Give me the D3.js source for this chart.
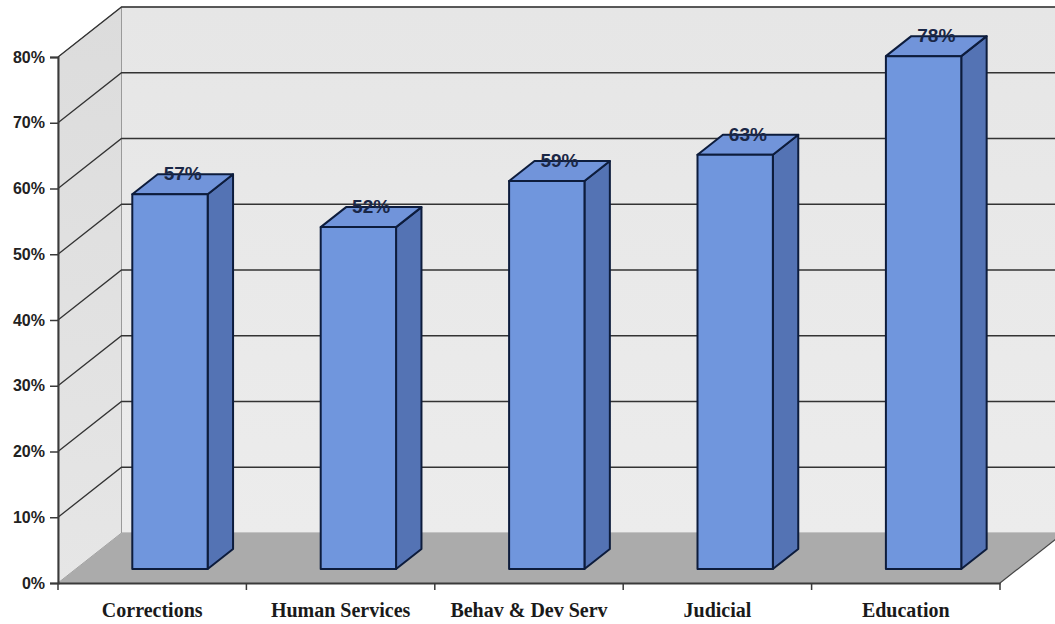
<!DOCTYPE html>
<html>
<head>
<meta charset="utf-8">
<script src="https://cdn.jsdelivr.net/npm/d3@7/dist/d3.min.js"></script>
<style>
  html, body { margin: 0; padding: 0; background: #ffffff; }
  svg { display: block; }
</style>
</head>
<body>
<svg id="chart" width="1055" height="624"></svg>
<script>
// Share of respondents by department
const categories = ["Corrections", "Human Services", "Behav & Dev Serv", "Judicial", "Education"];
const values = [57, 52, 59, 63, 78];
const yTicks = [0, 10, 20, 30, 40, 50, 60, 70, 80];

const W = 1055, H = 624;
const svg = d3.select("#chart");

// Front plane of the 3D box
const x0 = 58, x1 = 1000, yBase = 583, yTopPx = 57;
// Full depth of the box (offset of the back wall from the front plane)
const depthX = 63.5, depthY = -50;
// Bars sit between these depth fractions
const barFront = 0.28, barBack = 0.68;
const barWidthFrac = 0.40;

const x = d3.scaleBand().domain(categories).range([x0, x1]).padding(0);
const y = d3.scaleLinear().domain([0, 80]).range([yBase, yTopPx]);

// Project a point (px, value) at a depth fraction f
function P(px, v, f) {
  return [px + depthX * f, y(v) + depthY * f];
}
const pts = arr => arr.map(p => p.join(",")).join(" ");

const defs = svg.append("defs");
const gBack = defs.append("linearGradient").attr("id", "backWall")
  .attr("x1", 0).attr("y1", 0).attr("x2", 0).attr("y2", 1);
gBack.append("stop").attr("offset", "0%").attr("stop-color", "#e6e6e6");
gBack.append("stop").attr("offset", "100%").attr("stop-color", "#ececec");
const gSide = defs.append("linearGradient").attr("id", "sideWall")
  .attr("x1", 0).attr("y1", 0).attr("x2", 0).attr("y2", 1);
gSide.append("stop").attr("offset", "0%").attr("stop-color", "#dcdcdc");
gSide.append("stop").attr("offset", "100%").attr("stop-color", "#e6e6e6");

// Back wall
svg.append("polygon")
  .attr("points", pts([P(x0, 0, 1), P(x1, 0, 1), P(x1, 80, 1), P(x0, 80, 1)]))
  .attr("fill", "url(#backWall)")
  .attr("stroke", "#9a9a9a").attr("stroke-width", 1);

// Side wall
svg.append("polygon")
  .attr("points", pts([P(x0, 0, 0), P(x0, 0, 1), P(x0, 80, 1), P(x0, 80, 0)]))
  .attr("fill", "url(#sideWall)")
  .attr("stroke", "#9a9a9a").attr("stroke-width", 1);

// Floor
svg.append("polygon")
  .attr("points", pts([P(x0, 0, 0), P(x1, 0, 0), P(x1, 0, 1), P(x0, 0, 1)]))
  .attr("fill", "#ababab");
svg.append("line")
  .attr("x1", P(x1, 0, 0)[0]).attr("y1", P(x1, 0, 0)[1])
  .attr("x2", P(x1, 0, 1)[0]).attr("y2", P(x1, 0, 1)[1])
  .attr("stroke", "#444").attr("stroke-width", 1.2);

// Gridlines on the back wall and diagonals on the side wall
const grid = svg.append("g").attr("stroke", "#333").attr("stroke-width", 1.3).attr("fill", "none");
yTicks.filter(t => t > 0).forEach(t => {
  const a = P(x0, t, 0), b = P(x0, t, 1), c = P(x1, t, 1);
  grid.append("polyline").attr("points", pts([a, b, c]));
});

// Bars
const bars = svg.append("g");
categories.forEach((c, i) => {
  const v = values[i];
  const cx = x(c) + x.bandwidth() / 2;
  const w = x.bandwidth() * barWidthFrac;
  const L = cx - w / 2, R = cx + w / 2;
  const g = bars.append("g")
    .attr("stroke", "#0d1c3c").attr("stroke-width", 2).attr("stroke-linejoin", "round");
  // right side face
  g.append("polygon")
    .attr("points", pts([P(R, 0, barFront), P(R, 0, barBack), P(R, v, barBack), P(R, v, barFront)]))
    .attr("fill", "#5473b4");
  // top face
  g.append("polygon")
    .attr("points", pts([P(L, v, barFront), P(R, v, barFront), P(R, v, barBack), P(L, v, barBack)]))
    .attr("fill", "#7194da");
  // front face
  g.append("polygon")
    .attr("points", pts([P(L, 0, barFront), P(R, 0, barFront), P(R, v, barFront), P(L, v, barFront)]))
    .attr("fill", "#7096dd");
});

// Value labels sitting on the back edge of each bar top
svg.append("g").selectAll("text")
  .data(categories)
  .join("text")
  .attr("x", (d, i) => x(d) + x.bandwidth() / 2 + depthX * (barFront + barBack) / 2)
  .attr("y", (d, i) => y(values[i]) + depthY * barBack + 6)
  .attr("text-anchor", "middle")
  .attr("font-family", "'Liberation Sans', Arial, sans-serif")
  .attr("font-weight", "bold")
  .attr("font-size", 19)
  .attr("fill", "#1a2746")
  .text((d, i) => values[i] + "%");

// Y axis
const yAxis = svg.append("g")
  .attr("transform", `translate(${x0},0)`)
  .call(d3.axisLeft(y).tickValues(yTicks).tickSize(8).tickPadding(5).tickFormat(d => d + "%"));
yAxis.select(".domain").attr("stroke", "#3a3a3a").attr("stroke-width", 2);
yAxis.selectAll(".tick line").attr("stroke", "#3a3a3a").attr("stroke-width", 1.5);
yAxis.selectAll(".tick text")
  .attr("font-family", "'Liberation Sans', Arial, sans-serif")
  .attr("font-weight", "bold")
  .attr("font-size", 16)
  .attr("fill", "#222");

// X axis: category labels centred in each band, ticks on band boundaries
const xAxis = svg.append("g")
  .attr("transform", `translate(0,${yBase})`)
  .call(d3.axisBottom(x).tickSize(0).tickPadding(20));
xAxis.select(".domain").attr("stroke", "#3a3a3a").attr("stroke-width", 2);
xAxis.selectAll(".tick text")
  .attr("font-family", "'Liberation Serif', 'Times New Roman', serif")
  .attr("font-weight", "bold")
  .attr("font-size", 20)
  .attr("fill", "#1a1a1a");
const bounds = categories.map(c => x(c)).concat([x1]);
xAxis.selectAll("line.bound")
  .data(bounds)
  .join("line")
  .attr("class", "bound")
  .attr("x1", d => d).attr("x2", d => d)
  .attr("y1", 0).attr("y2", 7)
  .attr("stroke", "#3a3a3a").attr("stroke-width", 1.5);
</script>
</body>
</html>
